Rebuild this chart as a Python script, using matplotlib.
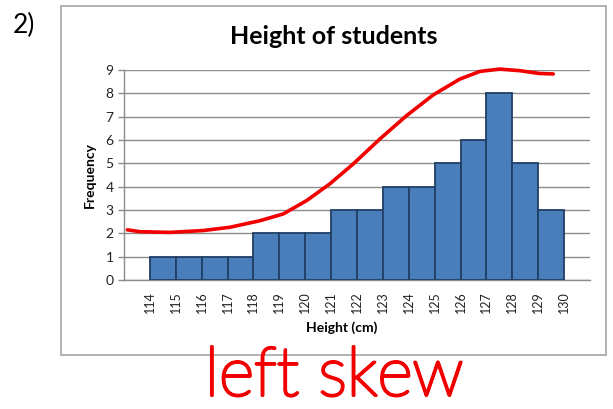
import matplotlib
matplotlib.use("Agg")
import matplotlib.pyplot as plt
from matplotlib.patches import Rectangle
import matplotlib.patheffects as pe

# ---- data ----
bin_starts = [114, 115, 116, 117, 118, 119, 120, 121, 122, 123, 124, 125, 126, 127, 128, 129]
frequency = [1, 1, 1, 1, 2, 2, 2, 3, 3, 4, 4, 5, 6, 8, 5, 3]
tick_labels = [str(v) for v in range(114, 131)]
y_ticks = list(range(0, 10))

# hand-drawn red curve
curve_x = [113.13, 113.62, 114.78, 116.06, 117.09, 118.25, 119.15, 120.05, 120.95,
           121.85, 122.88, 123.91, 124.94, 125.97, 126.75, 127.52, 128.29, 129.06, 129.58]
curve_y = [2.15, 2.07, 2.04, 2.12, 2.26, 2.54, 2.83, 3.40, 4.12,
           4.97, 6.04, 7.04, 7.93, 8.61, 8.94, 9.04, 8.97, 8.85, 8.83]

title = "Height of students"
xlabel = "Height (cm)"
ylabel = "Frequency"
note = "left skew"
question = "2)"

W, H = 613, 409
fig = plt.figure(figsize=(W / 100, H / 100), dpi=100)
plt.rcParams['font.family'] = ['Lato', 'DejaVu Sans']

def fx(px):
    return px / W

def fy(py):
    return 1 - py / H

# frame of the chart
frame = Rectangle((fx(61), fy(355)), fx(606) - fx(61), fy(6) - fy(355),
                  transform=fig.transFigure, facecolor='none',
                  edgecolor='#A6A6A6', linewidth=1.2, zorder=-1)
fig.patches.append(frame)

ax = fig.add_axes([fx(124), fy(280), fx(590) - fx(124), fy(70) - fy(280)])
ax.set_facecolor('none')
ax.bar(bin_starts, frequency, width=1, align='edge', color='#4A7EBB',
       edgecolor='#1F3F66', linewidth=1.3, zorder=3)
ax.set_xlim(113, 131)
ax.set_ylim(0, 9)
ax.set_yticks(y_ticks)
ax.set_yticklabels([str(v) for v in y_ticks], fontsize=10, color='#222222')
ax.set_xticks(list(range(114, 131)))
ax.set_xticklabels(tick_labels, rotation=90, fontsize=9, color='#222222')
ax.tick_params(axis='x', length=0, pad=8)
ax.tick_params(axis='y', length=4.5, width=1, color='#8C8C8C', pad=3)
ax.yaxis.grid(True, color='#8C8C8C', linewidth=1.0, zorder=1)
ax.set_axisbelow(True)
for s in ['top', 'right']:
    ax.spines[s].set_visible(False)
for s in ['left', 'bottom']:
    ax.spines[s].set_color('#8C8C8C')
    ax.spines[s].set_linewidth(1.0)

ax.plot(curve_x, curve_y, color='#F20000', linewidth=2.6, solid_capstyle='round',
        solid_joinstyle='round', zorder=5, clip_on=False)

fig.text(fx(334), fy(37), title, ha='center', va='center', fontsize=18, fontweight='bold')
fig.text(fx(342), fy(328), xlabel, ha='center', va='center', fontsize=10, fontweight='bold')
fig.text(fx(90), fy(175), ylabel, ha='center', va='center', rotation=90, fontsize=10,
         fontweight='bold')
fig.text(fx(24), fy(25), question, ha='center', va='center', fontsize=19)
fig.text(fx(334), fy(377), note, ha='center', va='center', fontsize=49, color='#F20000',
         fontweight='light', zorder=10,
         path_effects=[pe.withStroke(linewidth=2.2, foreground='#F20000')])

fig.savefig('out.png', dpi=100)
